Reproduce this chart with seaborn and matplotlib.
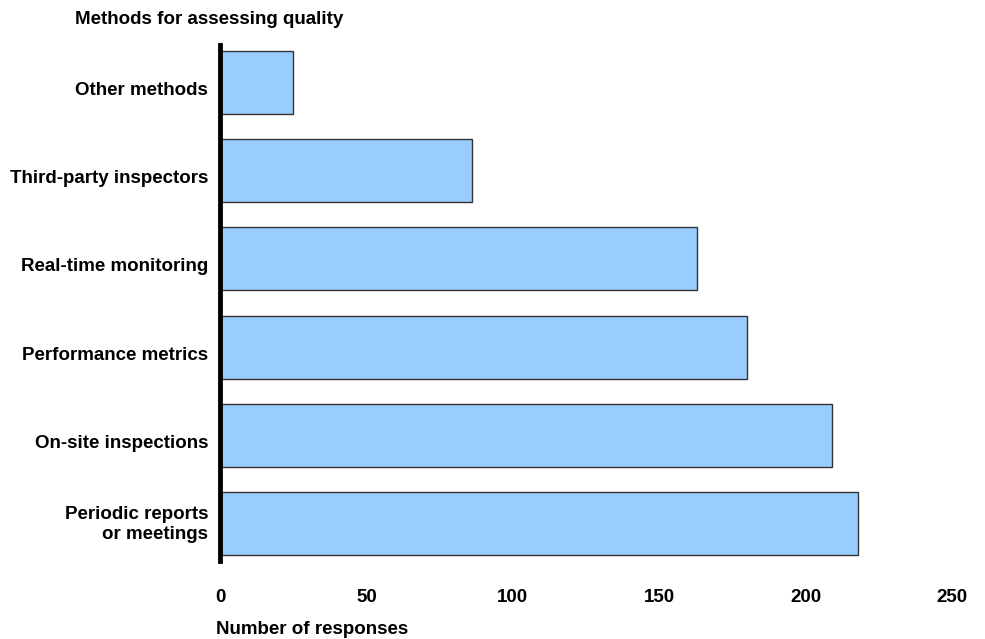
import pandas as pd
import matplotlib.pyplot as plt
import matplotlib.transforms as mtransforms
import seaborn as sns

methods = [
    "Other methods",
    "Third-party inspectors",
    "Real-time monitoring",
    "Performance metrics",
    "On-site inspections",
    "Periodic reports\nor meetings",
]
responses = [25, 86, 163, 180, 209, 218]
x_ticks = [0, 50, 100, 150, 200, 250]

df = pd.DataFrame({"method": methods, "responses": responses})

sns.set_style("white")
plt.rcParams['font.family'] = ['Liberation Sans', 'DejaVu Sans']
plt.rcParams['font.weight'] = 'bold'
plt.rcParams['text.color'] = 'black'
plt.rcParams['xtick.color'] = 'black'
plt.rcParams['ytick.color'] = 'black'
plt.rcParams['xtick.labelcolor'] = 'black'
plt.rcParams['ytick.labelcolor'] = 'black'

fs = 13.5

fig = plt.figure(figsize=(9.85, 6.39), dpi=100)
ax = fig.add_axes([220 / 985, 1 - 561 / 639, (952 - 220) / 985, (561 - 45) / 639])

sns.barplot(
    data=df,
    x="responses",
    y="method",
    order=methods,
    color="#99ccff",
    saturation=1,
    width=0.715,
    edgecolor="#333333",
    linewidth=1,
    ax=ax,
)

ax.set_xlim(0, 250)
ax.set_ylim(5.43, -0.43)
ax.set_xticks(x_ticks)
ax.set_xticklabels([str(t) for t in x_ticks], fontsize=fs, fontweight='bold')

ax.tick_params(axis='x', length=0, pad=20.5)
ax.tick_params(axis='y', length=0, pad=8.5)

for lab in ax.get_yticklabels():
    lab.set_fontsize(fs)
    lab.set_fontweight('bold')
    lab.set_horizontalalignment('right')
    lab.set_multialignment('right')
    dy = -6 if "\n" not in lab.get_text() else 2
    lab.set_transform(lab.get_transform() +
                      mtransforms.ScaledTranslation(0, dy / 100, fig.dpi_scale_trans))

for side in ['top', 'right', 'bottom']:
    ax.spines[side].set_visible(False)
ax.spines['left'].set_linewidth(3.5)
ax.spines['left'].set_color('black')

ax.set_ylabel("")
ax.set_xlabel("")
fig.text(75 / 985, 1 - 20 / 639, "Methods for assessing quality",
         fontsize=fs, fontweight='bold', va='center', ha='left')
fig.text(216 / 985, 1 - 630 / 639, "Number of responses",
         fontsize=fs, fontweight='bold', va='center', ha='left')

plt.savefig("out.png", dpi=100)
